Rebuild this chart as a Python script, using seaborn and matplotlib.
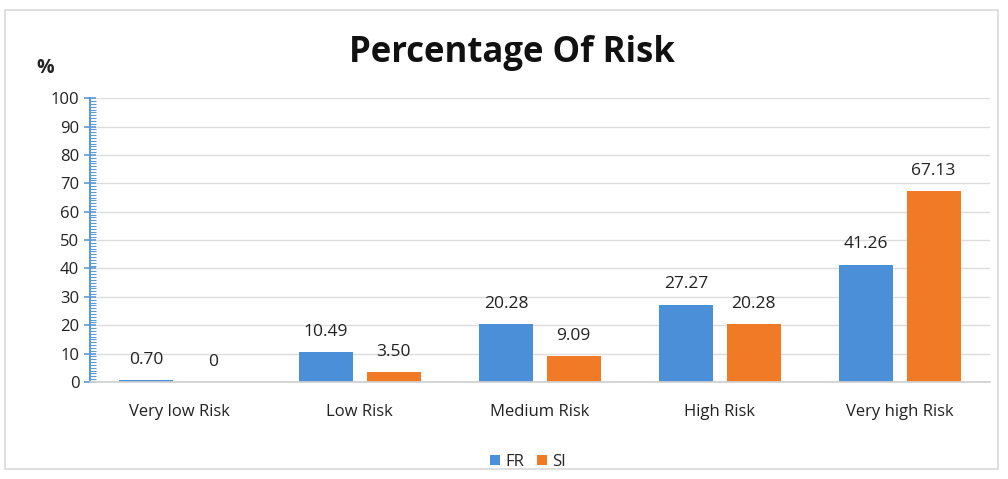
import matplotlib
matplotlib.use("Agg")
import matplotlib.pyplot as plt
from matplotlib.ticker import MultipleLocator
from matplotlib.patches import Rectangle
import seaborn as sns
import pandas as pd

categories = ["Very low Risk", "Low Risk", "Medium Risk", "High Risk", "Very high Risk"]
fr_values = [0.70, 10.49, 20.28, 27.27, 41.26]
si_values = [0.0, 3.50, 9.09, 20.28, 67.13]
fr_labels = ["0.70", "10.49", "20.28", "27.27", "41.26"]
si_labels = ["0", "3.50", "9.09", "20.28", "67.13"]

sns.set_theme(style="white")
plt.rcParams["font.family"] = ["Open Sans", "DejaVu Sans"]

df = pd.DataFrame({
    "Risk": categories * 2,
    "Value": fr_values + si_values,
    "Group": ["FR"] * 5 + ["SI"] * 5,
})

fig = plt.figure(figsize=(10.08, 4.79), dpi=100)
ax = fig.add_axes([0.089, 0.2025, 0.893, 0.5925])

sns.barplot(data=df, x="Risk", y="Value", hue="Group", ax=ax,
            palette={"FR": "#4a8fd8", "SI": "#f07a25"},
            width=0.75, gap=0.2, saturation=1, edgecolor="none")

for cont, labels in zip(ax.containers, [fr_labels, si_labels]):
    ax.bar_label(cont, labels=labels, padding=9, fontsize=12.5, color="#222222")

ax.set_ylim(0, 100)
ax.set_xlim(-0.5, 4.5)
ax.yaxis.set_major_locator(MultipleLocator(10))
ax.yaxis.set_minor_locator(MultipleLocator(1))
ax.grid(axis="y", color="#dcdcdc", linewidth=1)
ax.set_axisbelow(True)
for s in ["top", "right"]:
    ax.spines[s].set_visible(False)
ax.spines["left"].set_color("#5b9bd5")
ax.spines["left"].set_linewidth(1.5)
ax.spines["bottom"].set_color("#d0d0d0")
ax.tick_params(axis="y", which="major", left=True, length=8, width=1.2,
               color="#5b9bd5", labelsize=12, labelcolor="#222222", direction="inout")
ax.tick_params(axis="y", which="minor", left=True, length=4, width=0.8,
               color="#5b9bd5", direction="in")
ax.tick_params(axis="x", labelsize=12, labelcolor="#222222", pad=10)
ax.set_xlabel("")
ax.set_ylabel("")

fig.text(0.508, 0.89, "Percentage Of Risk", ha="center", va="center",
         fontsize=25, fontweight="bold", color="#111111")
fig.text(0.045, 0.858, "%", ha="center", va="center", fontsize=14,
         fontweight="bold", color="#222222")

ax.legend(loc="upper center", bbox_to_anchor=(0.487, -0.2), ncol=2, frameon=False,
          fontsize=12, handlelength=0.6, handleheight=0.6, handletextpad=0.3,
          columnspacing=0.8)

fig.patches.append(Rectangle((0.005, 0.02), 0.985, 0.96, transform=fig.transFigure,
                             fill=False, edgecolor="#d9d9d9", linewidth=1.2))

fig.savefig("out.png", dpi=100)
